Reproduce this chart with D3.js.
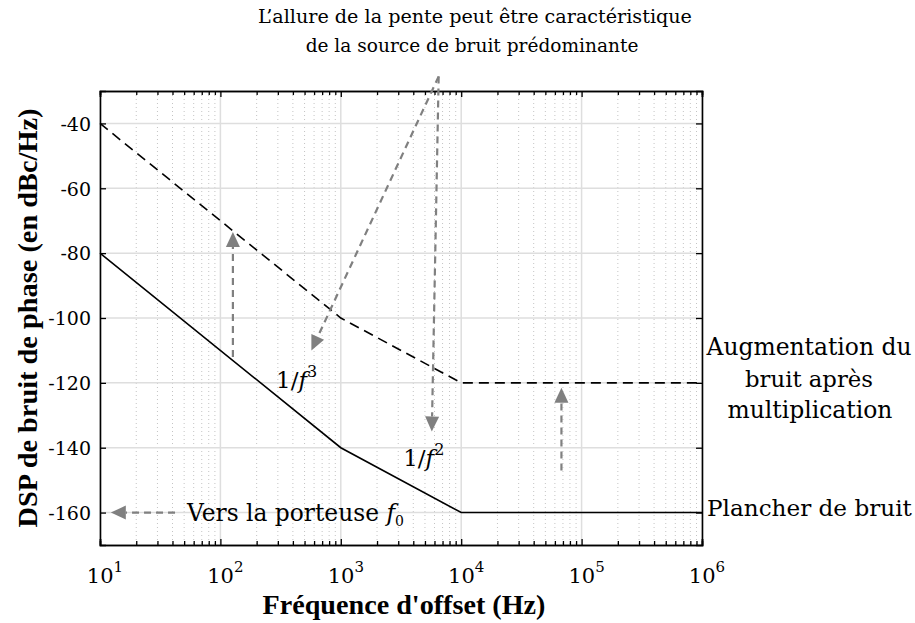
<!DOCTYPE html>
<html>
<head>
<meta charset="utf-8">
<script src="https://cdn.jsdelivr.net/npm/d3@7"></script>
<style>
  body { margin: 0; background: #fff; }
  svg text { font-family: "DejaVu Serif", serif; fill: #000; }
</style>
</head>
<body>
<svg id="chart"></svg>
<script>
// data
var freqs = [10, 1e3, 1e4, 1e6];
var noiseBefore = [-80, -140, -160, -160];     // solid line
var noiseAfter = [-40, -100, -120, -120];      // dashed line
var yTicks = [-160, -140, -120, -100, -80, -60, -40];
var xTickExps = [1, 2, 3, 4, 5, 6];

var svg = d3.select("#chart")
    .attr("width", 915)
    .attr("height", 623);

var margin = {left: 100, top: 91};
var w = 602, h = 454;

var g = svg.append("g")
    .attr("transform", "translate(" + margin.left + "," + margin.top + ")");

var x = d3.scaleLog().domain([10, 1e6]).range([0, w]);
var y = d3.scaleLinear().domain([-170, -30]).range([h, 0]);

// scale a text so that it spans the width
function fit(sel, width) {
    var base = parseFloat(sel.style("font-size"));
    var len = sel.node().getComputedTextLength();
    sel.style("font-size", (base * width / len).toFixed(2) + "px");
    return sel;
}

var minor = [];
for (var e = 1; e < 6; e++) {
    for (var k = 2; k <= 9; k++) minor.push(k * Math.pow(10, e));
}
var major = xTickExps.map(d => Math.pow(10, d));

// grid
g.selectAll(".minor-grid").data(minor).enter().append("line")
    .attr("x1", d => x(d)).attr("x2", d => x(d))
    .attr("y1", 0).attr("y2", h)
    .attr("stroke", "#c4c4c4").attr("stroke-width", 1)
    .attr("stroke-dasharray", "1,3");

g.selectAll(".major-xgrid").data(major).enter().append("line")
    .attr("x1", d => x(d)).attr("x2", d => x(d))
    .attr("y1", 0).attr("y2", h)
    .attr("stroke", "#dedede").attr("stroke-width", 1.5);

g.selectAll(".major-ygrid").data(yTicks).enter().append("line")
    .attr("x1", 0).attr("x2", w)
    .attr("y1", d => y(d)).attr("y2", d => y(d))
    .attr("stroke", "#dedede").attr("stroke-width", 1.5);

// axes, ticks inward on the four sides
g.append("g").attr("transform", "translate(0," + h + ")")
    .call(d3.axisBottom(x).tickValues(major).tickSize(-6).tickFormat(""));
g.append("g")
    .call(d3.axisTop(x).tickValues(major).tickSize(-6).tickFormat(""));
g.append("g").attr("transform", "translate(0," + h + ")")
    .call(d3.axisBottom(x).tickValues(minor).tickSize(-4).tickFormat(""));
g.append("g")
    .call(d3.axisTop(x).tickValues(minor).tickSize(-4).tickFormat(""));
var left = g.append("g")
    .call(d3.axisLeft(y).tickValues(yTicks).tickSize(-6).tickPadding(9).tickFormat(d => d));
g.append("g").attr("transform", "translate(" + w + ",0)")
    .call(d3.axisRight(y).tickValues(yTicks).tickSize(-6).tickFormat(""));

g.selectAll(".domain").attr("stroke", "#000").attr("stroke-width", 1.6);
g.selectAll(".tick line").attr("stroke", "#000").attr("stroke-width", 1.3);
left.attr("font-family", null);
left.selectAll("text")
    .attr("dy", "0.36em")
    .style("font-size", "19px");

// x tick labels 10^n
var xl = g.append("g");
xTickExps.forEach(function(e) {
    var t = xl.append("text")
        .attr("x", x(Math.pow(10, e)) + 5)
        .attr("y", h + 38)
        .attr("text-anchor", "middle")
        .style("font-size", "21px");
    t.append("tspan").text("10");
    t.append("tspan").attr("dy", -11).style("font-size", "15px").text(e);
});

// lines
var line = d3.line().x(d => x(d[0])).y(d => y(d[1]));
g.append("path")
    .datum(freqs.map((f, i) => [f, noiseBefore[i]]))
    .attr("d", line)
    .attr("fill", "none").attr("stroke", "#000").attr("stroke-width", 1.6);
g.append("path")
    .datum(freqs.map((f, i) => [f, noiseAfter[i]]))
    .attr("d", line)
    .attr("fill", "none").attr("stroke", "#000").attr("stroke-width", 1.6)
    .attr("stroke-dasharray", "10,6");

// arrows
var arrows = [
    {from: [127, -112], to: [127, -73.5]},
    {from: [68000, -147], to: [68000, -121.5]},
    {from: [6500, -25.5], to: [570, -110]},
    {from: [6500, -25.5], to: [5700, -135]},
    {from: [42, -160], to: [12.3, -160]}
];
var gray = "#808080";
arrows.forEach(function(a) {
    var x0 = x(a.from[0]), y0 = y(a.from[1]);
    var x1 = x(a.to[0]), y1 = y(a.to[1]);
    var dx = x1 - x0, dy = y1 - y0, len = Math.sqrt(dx * dx + dy * dy);
    var ux = dx / len, uy = dy / len;
    var hl = 15, hw = 7;
    var bx = x1 - ux * hl, by = y1 - uy * hl;
    g.append("line")
        .attr("x1", x0).attr("y1", y0).attr("x2", bx).attr("y2", by)
        .attr("stroke", gray).attr("stroke-width", 2.2)
        .attr("stroke-dasharray", "7,5");
    g.append("path")
        .attr("d", "M" + x1 + "," + y1 +
            "L" + (bx - uy * hw) + "," + (by + ux * hw) +
            "L" + (bx + uy * hw) + "," + (by - ux * hw) + "Z")
        .attr("fill", gray);
});

// slope labels
function slope(px, py, n) {
    var t = g.append("text")
        .attr("x", x(px)).attr("y", y(py))
        .style("font-size", "23px");
    t.append("tspan").text("1/");
    t.append("tspan").style("font-style", "italic").text("f");
    t.append("tspan").attr("dy", -11).style("font-size", "16px").text(n);
}
slope(290, -121.5, 3);
slope(3300, -145.5, 2);

// text annotations
function note(tx, ty, s, width, anchor) {
    var t = svg.append("text")
        .attr("x", tx).attr("y", ty)
        .attr("text-anchor", anchor || "middle")
        .style("font-size", "20px")
        .text(s);
    return fit(t, width);
}
note(475, 23, "L\u2019allure de la pente peut être caractéristique", 434);
note(472, 52, "de la source de bruit prédominante", 333);
note(809, 355, "Augmentation du", 205);
note(809, 387, "bruit après", 128);
note(810, 418, "multiplication", 165);
note(707, 516, "Plancher de bruit", 205, "start");
var vers = note(187, 521, "Vers la porteuse ", 192, "start");
vers.append("tspan").style("font-style", "italic").text("f");
vers.append("tspan").attr("dy", 5).style("font-size", "14px").text("0");

// axis labels
var xt = svg.append("text")
    .attr("x", 404).attr("y", 614)
    .attr("text-anchor", "middle")
    .style("font-family", "'Liberation Serif', serif")
    .style("font-size", "23px").style("font-weight", "bold")
    .text("Fréquence d'offset (Hz)");
fit(xt, 283);
var yt = svg.append("text")
    .attr("transform", "translate(37,318) rotate(-90)")
    .attr("text-anchor", "middle")
    .style("font-family", "'Liberation Serif', serif")
    .style("font-size", "23px").style("font-weight", "bold")
    .text("DSP de bruit de phase (en dBc/Hz)");
fit(yt, 419);
</script>
</body>
</html>
